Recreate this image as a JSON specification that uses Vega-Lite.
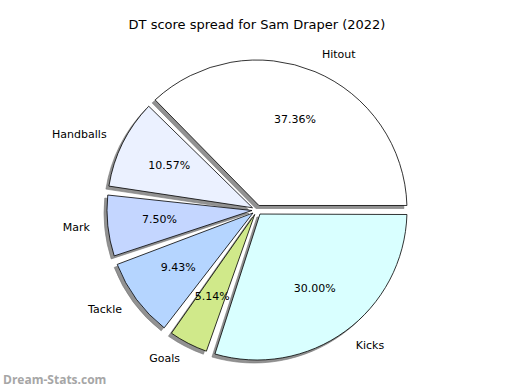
{
  "$schema": "https://vega.github.io/schema/vega-lite/v6.json",
  "padding": {"top": 19, "left": 3, "right": 0, "bottom": 4},
  "background": "white",
  "config": {"view": {"stroke": null}, "font": "DejaVu Sans"},
  "title": {"text": "Dream-Stats.com", "orient": "bottom", "anchor": "start", "font": "Open Sans", "fontSize": 12, "fontWeight": "bold", "color": "#a6a6a6", "offset": 0},
  "vconcat": [
    {
      "title": {"text": "DT score spread for Sam Draper (2022)", "fontSize": 13, "fontWeight": "normal", "font": "DejaVu Sans", "color": "black", "offset": 13},
      "width": 508,
      "height": 330,
      "data": {"values": [
        {"label": "Hitout", "pct": 0.3736, "idx": 1},
        {"label": "Handballs", "pct": 0.1057, "idx": 2},
        {"label": "Mark", "pct": 0.0750, "idx": 3},
        {"label": "Tackle", "pct": 0.0943, "idx": 4},
        {"label": "Goals", "pct": 0.0514, "idx": 5},
        {"label": "Kicks", "pct": 0.3000, "idx": 6}
      ]},
      "encoding": {
        "theta": {"field": "pct", "type": "quantitative", "stack": true, "scale": {"domain": [0, 1], "range": [1.5708, -4.7124]}},
        "order": {"field": "idx", "type": "quantitative"}
      },
      "layer": [
        {"mark": {"type": "arc", "radius": 150, "radius2": 5, "padAngle": 0.06, "fill": "#929292", "stroke": "#777777", "strokeWidth": 0.6, "xOffset": -3, "yOffset": 3}},
        {"mark": {"type": "arc", "radius": 150, "radius2": 5, "padAngle": 0.06, "stroke": "black", "strokeWidth": 0.8},
         "encoding": {"color": {"field": "label", "type": "nominal", "scale": {"domain": ["Hitout", "Handballs", "Mark", "Tackle", "Goals", "Kicks"], "range": ["#ffffff", "#ebf1ff", "#c4d6ff", "#b5d5ff", "#d0e98a", "#d9ffff"]}, "legend": null}}},
        {"mark": {"type": "text", "radius": 98, "fontSize": 11, "font": "DejaVu Sans", "color": "black"},
         "encoding": {"text": {"field": "pct", "type": "quantitative", "format": ".2%"}}},
        {"mark": {"type": "text", "radius": 168, "fontSize": 11, "font": "DejaVu Sans", "color": "black", "align": "left"},
         "encoding": {"text": {"condition": {"test": "indexof(['Hitout','Kicks'], datum.label) >= 0", "field": "label", "type": "nominal"}, "value": ""}}},
        {"mark": {"type": "text", "radius": 168, "fontSize": 11, "font": "DejaVu Sans", "color": "black", "align": "right"},
         "encoding": {"text": {"condition": {"test": "indexof(['Hitout','Kicks'], datum.label) < 0", "field": "label", "type": "nominal"}, "value": ""}}}
      ]
    }
  ]
}
